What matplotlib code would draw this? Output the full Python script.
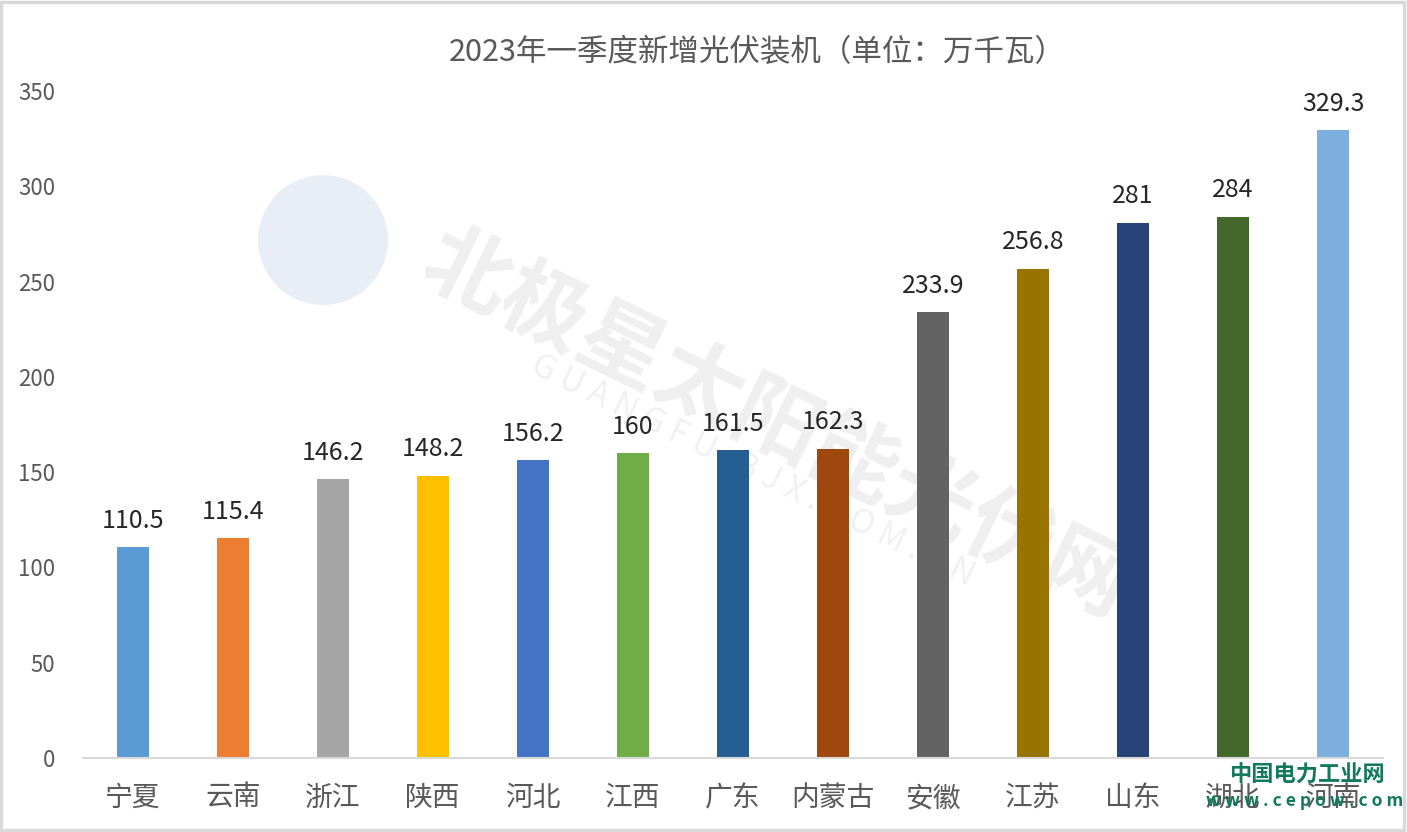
import matplotlib
matplotlib.use("Agg")
import matplotlib.pyplot as plt
from matplotlib.patches import Ellipse, Rectangle

plt.rcParams["font.family"] = ["Noto Sans CJK SC", "DejaVu Sans"]

# ─── Data ─────────────────────────────────────────────────────────────────────
provinces = ["宁夏", "云南", "浙江", "陕西", "河北", "江西", "广东",
             "内蒙古", "安徽", "江苏", "山东", "湖北", "河南"]
capacity = [110.5, 115.4, 146.2, 148.2, 156.2, 160, 161.5,
            162.3, 233.9, 256.8, 281, 284, 329.3]
bar_colors = ["#5B9BD5", "#ED7D31", "#A5A5A5", "#FFC000", "#4472C4", "#70AD47",
              "#255E91", "#9E480E", "#636363", "#997300", "#264478", "#43682B",
              "#7CAFDD"]
y_ticks = [0, 50, 100, 150, 200, 250, 300, 350]
title = "2023年一季度新增光伏装机（单位：万千瓦）"

TXT = "#595959"

fig = plt.figure(figsize=(14.07, 8.32), dpi=100)
fig.patch.set_facecolor("white")
ax = fig.add_axes([0.059, 0.0889, 0.924, 0.8017])
ax.set_zorder(2)
ax.patch.set_alpha(0)

# faint background watermark (behind the axes)
fig.patches.append(Ellipse((0.2296, 0.7115), 0.0924, 0.156, transform=fig.transFigure,
                           facecolor="#e8eef6", edgecolor="none", zorder=0,
                           figure=fig))
fig.text(0.552, 0.49, "北极星太阳能光伏网", rotation=-26, fontsize=62,
         fontweight="heavy", color="#efefef", ha="center", va="center", zorder=0)
fig.text(0.535, 0.435, "G U A N G F U . B J X . C O M . C N", rotation=-26,
         fontsize=24, color="#f1f1f1", ha="center", va="center", zorder=0)

x = range(len(provinces))
ax.bar(x, capacity, width=0.32, color=bar_colors, zorder=2)
for xi, v in zip(x, capacity):
    ax.text(xi, v + 7, f"{v:g}", ha="center", va="bottom",
            fontsize=18, color="#262626", zorder=3)

ax.set_xlim(-0.5, len(provinces) - 0.5)
ax.set_ylim(0, 350)
ax.set_yticks(y_ticks)
ax.set_xticks(list(x))
ax.set_xticklabels(provinces)
ax.tick_params(axis="x", length=0, labelsize=20, labelcolor=TXT, pad=18)
ax.tick_params(axis="y", length=0, labelsize=16, labelcolor=TXT, pad=20)
for s in ["top", "right", "left"]:
    ax.spines[s].set_visible(False)
ax.spines["bottom"].set_color("#d9d9d9")
ax.spines["bottom"].set_linewidth(1.5)

fig.text(0.538, 0.937, title, ha="center", va="center", fontsize=22, color=TXT)

# site stamp at bottom right
fig.text(0.929, 0.068, "中国电力工业网", ha="center", va="center", fontsize=16,
         fontweight="bold", color="#117a5a", zorder=5)
fig.text(0.927, 0.037, "w w w . c e p o w . c o m", ha="center", va="center",
         fontsize=12.5, fontweight="bold", color="#117a5a", zorder=5)

# outer border
fig.patches.append(Rectangle((0.001, 0.002), 0.997, 0.995, transform=fig.transFigure,
                             fill=False, edgecolor="#d9d9d9", linewidth=2.5,
                             zorder=6, figure=fig))

fig.savefig("out.png", dpi=100, facecolor="white")
